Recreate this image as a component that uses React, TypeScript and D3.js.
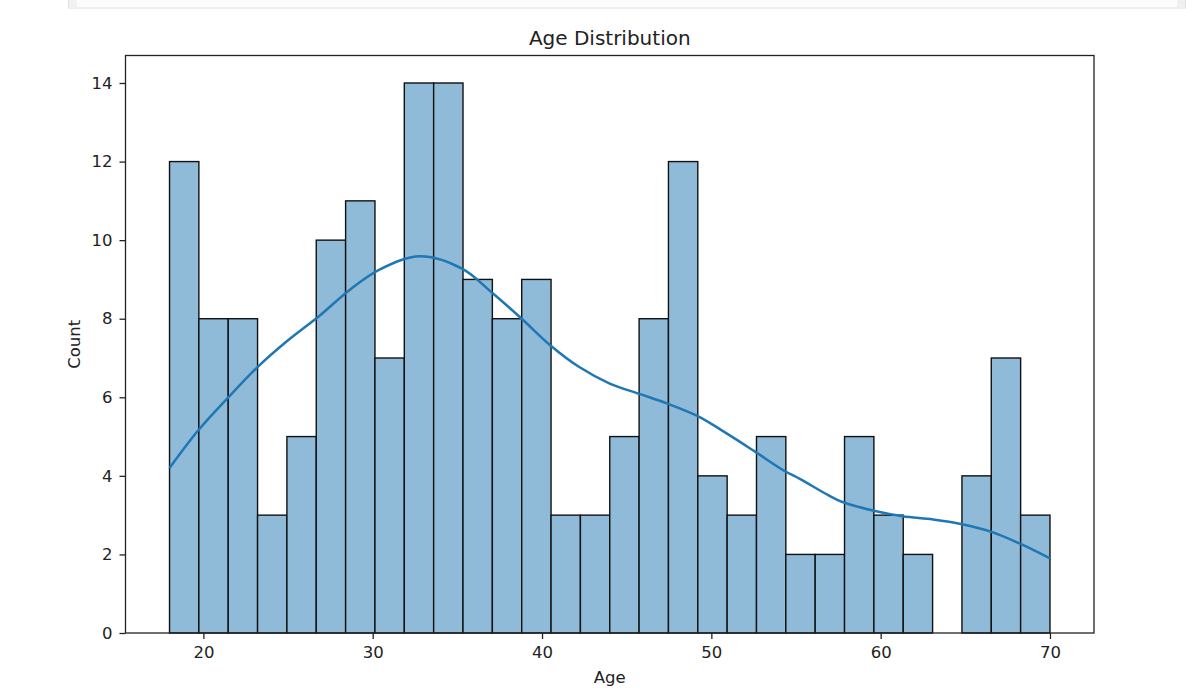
import { useEffect, useRef } from 'react'
import * as d3 from 'd3'

// histogram: 30 bins between min and max age
const ageMin = 18
const ageMax = 70
const binCounts = [12, 8, 8, 3, 5, 10, 11, 7, 14, 14, 9, 8, 9, 3, 3, 5, 8, 12, 4, 3, 5, 2, 2, 5, 3, 2, 0, 4, 7, 3]

// kde curve (scaled to counts)
const kdeAges = [18, 19.7, 21.5, 23.2, 25.0, 26.9, 28.6, 30.4, 32.8, 35.3, 37.0, 38.8, 40.5, 42.2, 44.0, 45.8, 47.4, 49.2, 50.9, 52.6, 54.3, 55.2, 56.9, 57.7, 59.6, 61.3, 63.1, 64.8, 66.5, 68.2, 70]
const kdeCounts = [4.2, 5.16, 6.01, 6.77, 7.45, 8.09, 8.72, 9.25, 9.59, 9.27, 8.68, 8.0, 7.32, 6.77, 6.35, 6.08, 5.84, 5.52, 5.08, 4.61, 4.13, 3.93, 3.51, 3.34, 3.11, 2.97, 2.89, 2.77, 2.58, 2.28, 1.9]

const xTicks = [20, 30, 40, 50, 60, 70]
const yTicks = [0, 2, 4, 6, 8, 10, 12, 14]

const title = 'Age Distribution'
const xLabel = 'Age'
const yLabel = 'Count'

const App = () => {
  const svgRef = useRef<SVGSVGElement>(null)
  const width = 1202
  const height = 692
  const margin = { top: 55.5, right: 108, bottom: 59, left: 125.5 }

  useEffect(() => {
    if (!svgRef.current) return
    const svg = d3.select(svgRef.current)
    svg.selectAll('*').remove()

    const font = '"DejaVu Sans", sans-serif'
    const textColor = '#222'

    // notebook cell remnant at the top
    svg.append('rect').attr('x', 68.5).attr('y', -2).attr('width', 1117).attr('height', 10)
      .attr('fill', '#fcfcfc').attr('stroke', '#e0e0e0').attr('stroke-width', 1)
    svg.append('rect').attr('x', 69).attr('y', -2).attr('width', 8).attr('height', 9.5).attr('fill', '#f2f2f2')
    svg.append('rect').attr('x', 1177).attr('y', -2).attr('width', 8).attr('height', 9.5).attr('fill', '#f0f0f0')

    const span = ageMax - ageMin
    const x = d3.scaleLinear()
      .domain([ageMin - span * 0.05, ageMax + span * 0.05])
      .range([margin.left, width - margin.right])

    const yMax = d3.max(binCounts) || 0
    const y = d3.scaleLinear()
      .domain([0, yMax * 1.05])
      .range([height - margin.bottom - 0.5 + 0.5, margin.top])

    const binWidth = span / binCounts.length
    const bins = binCounts.map((c, i) => ({ x0: ageMin + i * binWidth, x1: ageMin + (i + 1) * binWidth, count: c }))

    // bars
    svg.append('g')
      .selectAll('rect')
      .data(bins.filter(b => b.count > 0))
      .join('rect')
      .attr('x', d => x(d.x0))
      .attr('y', d => y(d.count))
      .attr('width', d => x(d.x1) - x(d.x0))
      .attr('height', d => y(0) - y(d.count))
      .attr('fill', '#8fbbd9')
      .attr('stroke', '#111')
      .attr('stroke-width', 1.4)

    // kde line
    const kde = kdeAges.map((a, i) => ({ age: a, count: kdeCounts[i] }))
    const line = d3.line<{ age: number; count: number }>()
      .x(d => x(d.age))
      .y(d => y(d.count))
      .curve(d3.curveCatmullRom)

    svg.append('path')
      .datum(kde)
      .attr('fill', 'none')
      .attr('stroke', '#1f77b4')
      .attr('stroke-width', 2.5)
      .attr('stroke-linecap', 'butt')
      .attr('d', line)

    // axes
    const xAxis = svg.append('g')
      .attr('transform', `translate(0,${y(0)})`)
      .call(d3.axisBottom(x).tickValues(xTicks).tickSize(6).tickPadding(7).tickFormat(d3.format('d')))
    const yAxis = svg.append('g')
      .attr('transform', `translate(${margin.left},0)`)
      .call(d3.axisLeft(y).tickValues(yTicks).tickSize(6).tickPadding(7).tickFormat(d3.format('d')))

    for (const g of [xAxis, yAxis]) {
      g.select('.domain').remove()
      g.selectAll('line').attr('stroke', '#222').attr('stroke-width', 1.3)
      g.selectAll('text').attr('fill', textColor).style('font-family', font).style('font-size', '16.5px')
    }

    // spines
    svg.append('rect')
      .attr('x', margin.left)
      .attr('y', margin.top)
      .attr('width', width - margin.right - margin.left)
      .attr('height', y(0) - margin.top)
      .attr('fill', 'none')
      .attr('stroke', '#222')
      .attr('stroke-width', 1.3)

    // labels
    svg.append('text')
      .attr('x', (margin.left + width - margin.right) / 2)
      .attr('y', 45)
      .attr('text-anchor', 'middle')
      .attr('fill', textColor)
      .style('font-family', font)
      .style('font-size', '20px')
      .text(title)

    svg.append('text')
      .attr('x', (margin.left + width - margin.right) / 2)
      .attr('y', 683)
      .attr('text-anchor', 'middle')
      .attr('fill', textColor)
      .style('font-family', font)
      .style('font-size', '16.5px')
      .text(xLabel)

    svg.append('text')
      .attr('transform', `translate(80,${(margin.top + y(0)) / 2}) rotate(-90)`)
      .attr('text-anchor', 'middle')
      .attr('fill', textColor)
      .style('font-family', font)
      .style('font-size', '16.5px')
      .text(yLabel)
  }, [])

  return (
    <div style={{ position: 'fixed', left: 0, top: 0, width, height, background: '#fff' }}>
      <svg ref={svgRef} width={width} height={height} style={{ display: 'block' }} />
    </div>
  )
}

export default App
